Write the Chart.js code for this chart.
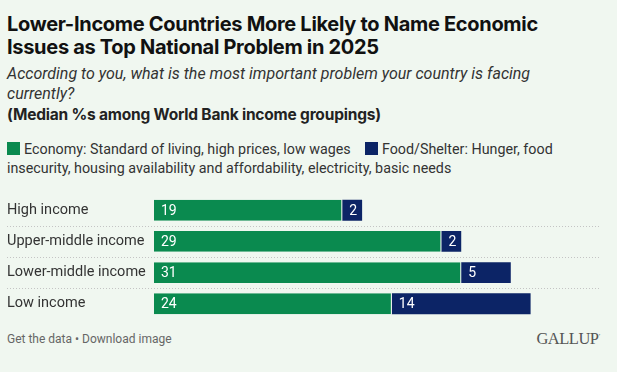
<!DOCTYPE html>
<html>
<head>
<meta charset="utf-8">
<script src="https://cdn.jsdelivr.net/npm/chart.js@4"></script>
<style>
  body { margin: 0; background: #f0f7f0; font-family: Roboto, sans-serif; width: 617px; height: 372px; overflow: hidden; position: relative; }
  .title { position: absolute; left: 7px; top: 13px; font-family: Inter, Roboto, sans-serif; font-size: 20px; line-height: 23px; font-weight: bold; color: #111; white-space: nowrap; letter-spacing: -0.3px; }
  .subtitle { position: absolute; left: 7px; top: 64px; font-size: 16px; line-height: 20px; font-style: italic; color: #333; width: 580px; }
  .note { position: absolute; left: 7px; top: 105px; font-family: Inter, Roboto, sans-serif; font-size: 15.5px; line-height: 20px; font-weight: bold; color: #222; letter-spacing: -0.2px; white-space: nowrap; }
  .legend { position: absolute; left: 7px; top: 140px; font-size: 14.3px; line-height: 19px; color: #333; width: 560px; }
  .sw { display: inline-block; width: 13px; height: 13px; vertical-align: -1px; margin-right: 4px; }
  .chart { position: absolute; left: 0; top: 186px; width: 617px; height: 142px; }
  .footer { position: absolute; left: 7px; top: 331px; font-size: 12px; line-height: 16px; color: #666; }
  .logo { position: absolute; right: 17px; top: 329px; font-family: "Liberation Serif", serif; font-size: 16.5px; color: #555; letter-spacing: -0.5px; }
</style>
</head>
<body>
<div class="title">Lower-Income Countries More Likely to Name Economic<br>Issues as Top National Problem in 2025</div>
<div class="subtitle">According to you, what is the most important problem your country is facing currently?</div>
<div class="note">(Median %s among World Bank income groupings)</div>
<div class="legend" id="legend"></div>
<div class="chart"><canvas id="chart"></canvas></div>
<div class="footer">Get the data • Download image</div>
<div class="logo">GALLUP<sup style="font-size:6px">’</sup></div>
<script>
const categories = ['High income', 'Upper-middle income', 'Lower-middle income', 'Low income'];
const economyValues = [19, 29, 31, 24];
const foodShelterValues = [2, 2, 5, 14];
const seriesNames = ['Economy: Standard of living, high prices, low wages', 'Food/Shelter: Hunger, food insecurity, housing availability and affordability, electricity, basic needs'];
const colors = ['#0a8a4f', '#0c2466'];
const bgColor = '#f0f7f0';

// legend as html so it can wrap like the original
document.getElementById('legend').innerHTML = seriesNames.map((name, i) =>
    `<span class="sw" style="background:${colors[i]}"></span>${name}`
).join('&nbsp;&nbsp;&nbsp; ');

// dotted separators between rows, across label area too
const rowLines = {
    id: 'rowLines',
    beforeDatasetsDraw(chart) {
        const { ctx, chartArea, scales: { y } } = chart;
        ctx.save();
        ctx.strokeStyle = '#c4c4c4';
        ctx.lineWidth = 1;
        ctx.setLineDash([1, 2]);
        for (let i = 0; i < categories.length - 1; i++) {
            const yy = Math.round((y.getPixelForTick(i) + y.getPixelForTick(i + 1)) / 2) + 0.5;
            ctx.beginPath();
            ctx.moveTo(7, yy);
            ctx.lineTo(chartArea.right + 3, yy);
            ctx.stroke();
        }
        ctx.restore();
    }
};

// value labels at the start of each segment
const valueLabels = {
    id: 'valueLabels',
    afterDatasetsDraw(chart) {
        const { ctx } = chart;
        ctx.save();
        ctx.fillStyle = '#fff';
        ctx.font = '14px Roboto';
        ctx.textBaseline = 'middle';
        ctx.textAlign = 'left';
        chart.data.datasets.forEach((ds, di) => {
            chart.getDatasetMeta(di).data.forEach((bar, i) => {
                const left = Math.min(bar.base, bar.x);
                ctx.fillText(ds.data[i], left + 7, bar.y + 1);
            });
        });
        ctx.restore();
    }
};

const chart = new Chart(document.getElementById('chart'), {
    type: 'bar',
    data: {
        labels: categories,
        datasets: [
            {
                label: seriesNames[0],
                data: economyValues,
                backgroundColor: colors[0],
                borderColor: bgColor,
                borderWidth: { top: 0, bottom: 0, left: 0, right: 1 },
                borderSkipped: false,
            },
            {
                label: seriesNames[1],
                data: foodShelterValues,
                backgroundColor: colors[1],
                borderWidth: 0,
            },
        ],
    },
    options: {
        indexAxis: 'y',
        responsive: true,
        maintainAspectRatio: false,
        animation: false,
        layout: { padding: { left: 7, right: 20, top: 0, bottom: 0 } },
        datasets: { bar: { categoryPercentage: 1, barPercentage: 0.67 } },
        plugins: { legend: { display: false }, tooltip: { enabled: false } },
        scales: {
            x: { stacked: true, min: 0, max: 44.7, display: false },
            y: {
                stacked: true,
                grid: { display: false },
                border: { display: false },
                ticks: { crossAlign: 'far', color: '#333', font: { family: 'Roboto', size: 14.5 }, padding: 0 },
                afterFit(scale) { scale.width = 147; },
            },
        },
    },
    plugins: [rowLines, valueLabels],
});
</script>
</body>
</html>
